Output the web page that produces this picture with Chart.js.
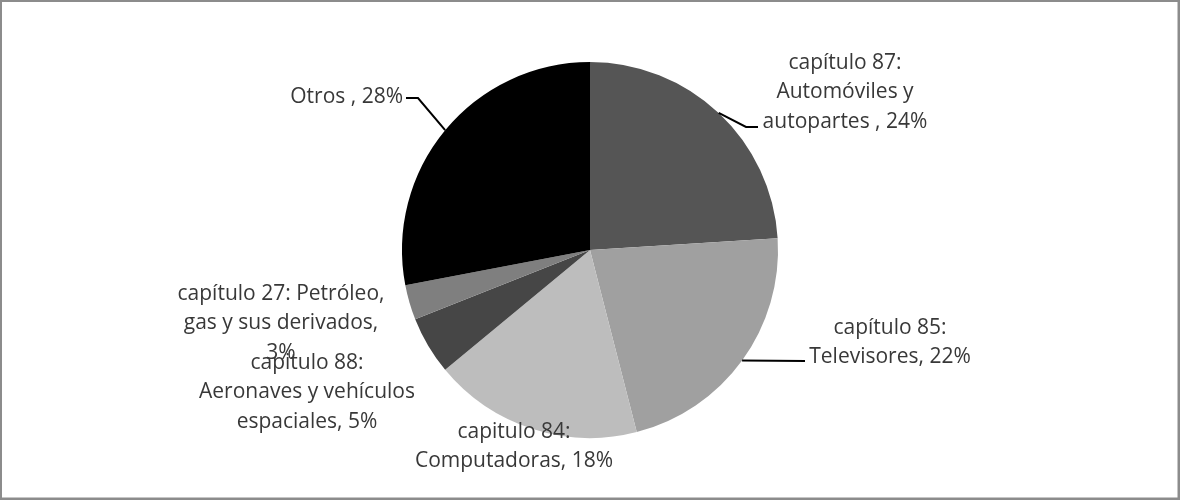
<!DOCTYPE html>
<html>
<head>
<meta charset="utf-8">
<script src="https://cdn.jsdelivr.net/npm/chart.js@4/dist/chart.umd.min.js"></script>
<style>
  html, body { margin: 0; padding: 0; background: #fff; }
  #wrap { position: relative; width: 1180px; height: 500px; }
</style>
</head>
<body>
<div id="wrap"><canvas id="chart" width="1180" height="500"></canvas></div>
<script>
// data
const categories = [
   "capítulo 87:\nAutomóviles y\nautopartes ",
   "capítulo 85:\nTelevisores",
   "capitulo 84:\nComputadoras",
   "capitulo 88:\nAeronaves y vehículos\nespaciales",
   "capítulo 27: Petróleo,\ngas y sus derivados",
   "Otros ",
];
const shares = [24, 22, 18, 5, 3, 28];
const sliceColors = ["#555555", "#a0a0a0", "#bdbdbd", "#464646", "#7f7f7f", "#000000"];

// label placement, relative to the pie centre (layout only)
const labelLayout = [
   { dx: 255, dy: -187, sep: ", ", align: "center", elbow: [[156, -123], [168, -123]] },
   { dx: 300, dy: 78, sep: ", ", align: "center", elbow: [[215, 111]] },
   { dx: -76, dy: 182, sep: ", ", align: "center", elbow: null },
   { dx: -283, dy: 113, sep: ", ", align: "center", elbow: null },
   { dx: -309, dy: 44, sep: ",\n", align: "center", elbow: null },
   { dx: -187, dy: -153, sep: ", ", align: "right", elbow: [[-172, -152], [-184, -152]] },
];
const LINE_H = 29.5;

const frame = {
   id: "frame",
   beforeDraw(chart) {
      const { ctx, width, height } = chart;
      ctx.save();
      ctx.fillStyle = "#fff";
      ctx.fillRect(0, 0, width, height);
      ctx.restore();
   },
   afterDraw(chart) {
      const { ctx, width, height } = chart;
      ctx.save();
      ctx.strokeStyle = "#8c8c8c";
      ctx.lineWidth = 3;
      ctx.strokeRect(0.5, 0.5, width - 1.5, height - 1.5);
      ctx.restore();
   },
};

const pieLabels = {
   id: "pieLabels",
   afterDatasetsDraw(chart) {
      const { ctx } = chart;
      const meta = chart.getDatasetMeta(0);
      ctx.save();
      ctx.font = "21px 'Open Sans'";
      ctx.fillStyle = "#383838";
      ctx.textBaseline = "middle";
      meta.data.forEach((arc, i) => {
         const { x, y, startAngle, endAngle, outerRadius } = arc.getProps(
            ["x", "y", "startAngle", "endAngle", "outerRadius"], true
         );
         const lay = labelLayout[i];
         // leader line from the arc edge at mid angle
         if (lay.elbow) {
            const mid = (startAngle + endAngle) / 2;
            ctx.beginPath();
            ctx.strokeStyle = "#000";
            ctx.lineWidth = 2;
            ctx.moveTo(x + Math.cos(mid) * outerRadius, y + Math.sin(mid) * outerRadius);
            lay.elbow.forEach(([ex, ey]) => ctx.lineTo(x + ex, y + ey));
            ctx.stroke();
         }
         const text = categories[i] + lay.sep + shares[i] + "%";
         const lines = text.split("\n");
         ctx.textAlign = lay.align;
         lines.forEach((line, k) => {
            ctx.fillText(line, x + lay.dx, y + lay.dy + k * LINE_H);
         });
      });
      ctx.restore();
   },
};

new Chart(document.getElementById("chart"), {
   type: "pie",
   data: {
      labels: categories,
      datasets: [
         {
            data: shares,
            backgroundColor: sliceColors,
            borderWidth: 0,
         },
      ],
   },
   options: {
      responsive: false,
      animation: false,
      events: [],
      layout: { padding: { top: 62, bottom: 62, left: 0, right: 0 } },
      plugins: {
         legend: { display: false },
         tooltip: { enabled: false },
      },
   },
   plugins: [frame, pieLabels],
});
</script>
</body>
</html>
